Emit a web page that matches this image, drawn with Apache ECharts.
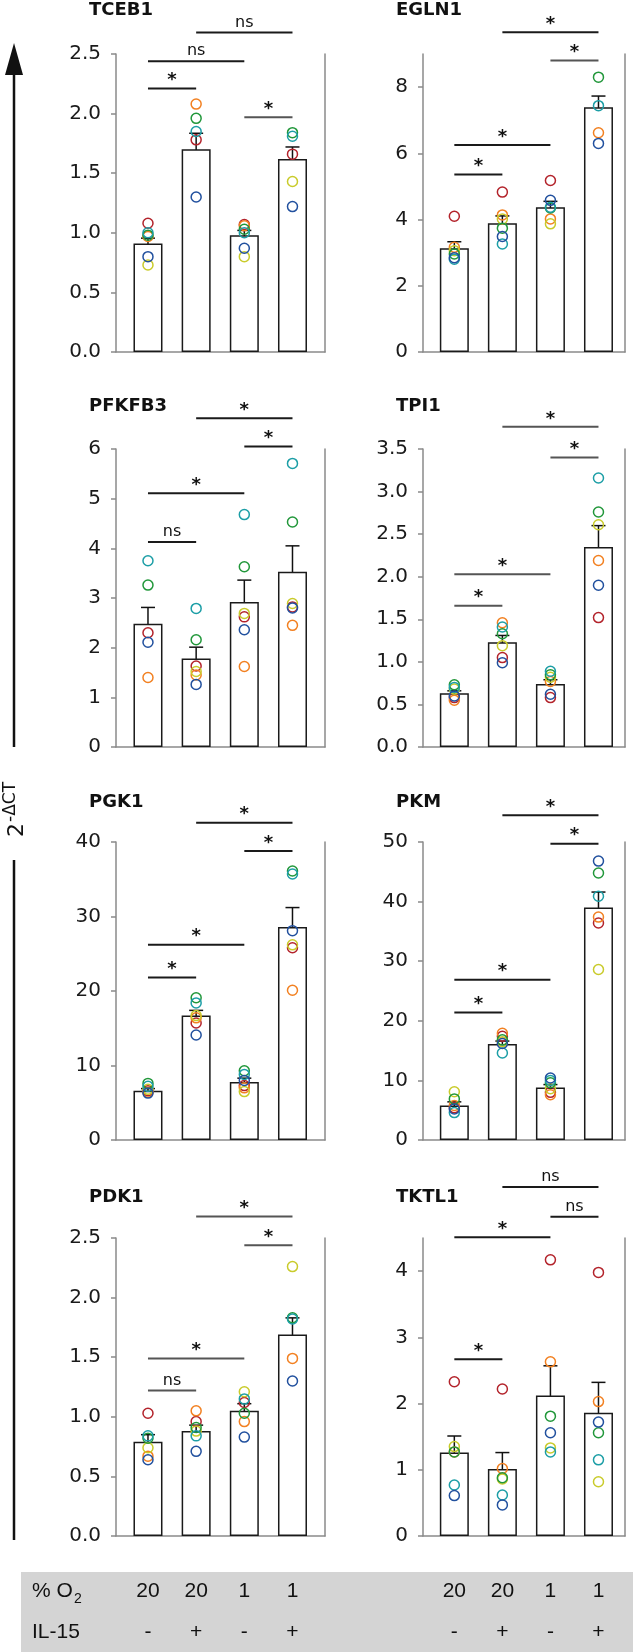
<!DOCTYPE html>
<html><head><meta charset="utf-8">
<script src="https://cdn.jsdelivr.net/npm/echarts@6/dist/echarts.min.js"></script>
<style>html,body{margin:0;padding:0;background:#fff}#c{width:633px;height:1652px}</style>
</head><body><div id="c"></div>
<script>
// ---------- data ----------
const groupX = [1, 2, 3, 4];
const o2Labels = ['20', '20', '1', '1'];
const il15Labels = ['-', '+', '-', '+'];
const donors = ['red', 'orange', 'yellow', 'green', 'teal', 'blue'];

const TCEB1_mean = [0.91, 1.70, 0.98, 1.62];
const TCEB1_sem = [0.045, 0.135, 0.04, 0.10];
const TCEB1_pts = [
  [1.08, 1.78, 1.07, 1.66],
  [0.97, 2.08, 1.06, null],
  [0.73, null, 0.80, 1.43],
  [0.98, 1.96, 1.03, 1.84],
  [1.00, 1.85, 1.00, 1.81],
  [0.80, 1.30, 0.87, 1.22]];
const TCEB1_ticks = [0, 0.5, 1, 1.5, 2, 2.5];
const TCEB1_max = 2.5;
const TCEB1_sig = [[1, 2, 2.21, '*'], [1, 3, 2.44, 'ns'], [2, 4, 2.68, 'ns'], [3, 4, 1.97, '*']];

const EGLN1_mean = [3.13, 3.89, 4.37, 7.39];
const EGLN1_sem = [0.20, 0.22, 0.18, 0.34];
const EGLN1_pts = [
  [4.10, 4.83, 5.18, null],
  [3.16, 4.14, 4.02, 6.62],
  [3.06, 4.02, 3.87, null],
  [2.96, 3.74, 4.35, 8.30],
  [2.80, 3.26, 4.37, 7.44],
  [2.85, 3.49, 4.58, 6.30]];
const EGLN1_ticks = [0, 2, 4, 6, 8];
const EGLN1_max = 9;
const EGLN1_sig = [[1, 2, 5.36, '*'], [1, 3, 6.25, '*'], [3, 4, 8.8, '*'], [2, 4, 9.66, '*']];

const PFKFB3_mean = [2.48, 1.78, 2.92, 3.53];
const PFKFB3_sem = [0.33, 0.23, 0.44, 0.52];
const PFKFB3_pts = [
  [2.30, 1.63, 2.62, 2.82],
  [1.40, 1.45, 1.62, 2.45],
  [null, 1.52, 2.69, 2.89],
  [3.26, 2.16, 3.63, 4.53],
  [3.75, 2.79, 4.68, 5.71],
  [2.11, 1.26, 2.36, 2.80]];
const PFKFB3_ticks = [0, 1, 2, 3, 4, 5, 6];
const PFKFB3_max = 6;
const PFKFB3_sig = [[1, 2, 4.13, 'ns'], [1, 3, 5.11, '*'], [3, 4, 6.05, '*'], [2, 4, 6.62, '*']];

const TPI1_mean = [0.63, 1.23, 0.74, 2.35];
const TPI1_sem = [0.03, 0.08, 0.05, 0.25];
const TPI1_pts = [
  [0.58, 1.05, 0.58, 1.52],
  [0.55, 1.46, 0.77, 2.19],
  [0.68, 1.19, 0.82, 2.61],
  [0.73, 1.33, 0.85, 2.76],
  [0.70, 1.41, 0.89, 3.16],
  [0.60, 0.99, 0.62, 1.90]];
const TPI1_ticks = [0, 0.5, 1, 1.5, 2, 2.5, 3, 3.5];
const TPI1_max = 3.5;
const TPI1_sig = [[1, 2, 1.66, '*'], [1, 3, 2.03, '*'], [3, 4, 3.40, '*'], [2, 4, 3.76, '*']];

const PGK1_mean = [6.6, 16.7, 7.8, 28.6];
const PGK1_sem = [0.3, 0.7, 0.5, 2.6];
const PGK1_pts = [
  [6.6, 15.7, 7.3, 25.8],
  [6.4, 16.4, 7.0, 20.1],
  [6.8, 16.7, 6.5, 26.2],
  [7.6, 19.1, 9.3, 36.1],
  [7.2, 18.4, 8.8, 35.7],
  [6.3, 14.1, 8.0, 28.1]];
const PGK1_ticks = [0, 10, 20, 30, 40];
const PGK1_max = 40;
const PGK1_sig = [[1, 2, 21.8, '*'], [1, 3, 26.2, '*'], [3, 4, 38.8, '*'], [2, 4, 42.6, '*']];

const PKM_mean = [5.8, 16.1, 8.8, 39.0];
const PKM_sem = [0.6, 0.5, 0.5, 2.6];
const PKM_pts = [
  [5.4, 17.4, 8.0, 36.4],
  [5.8, 17.9, 7.6, 37.4],
  [8.1, 16.5, 8.6, 28.6],
  [6.9, 16.8, 9.6, 44.8],
  [4.6, 14.6, 10.0, 40.9],
  [5.2, 16.2, 10.4, 46.8]];
const PKM_ticks = [0, 10, 20, 30, 40, 50];
const PKM_max = 50;
const PKM_sig = [[1, 2, 21.4, '*'], [1, 3, 26.9, '*'], [3, 4, 49.7, '*'], [2, 4, 54.5, '*']];

const PDK1_mean = [0.79, 0.88, 1.05, 1.69];
const PDK1_sem = [0.06, 0.05, 0.06, 0.14];
const PDK1_pts = [
  [1.03, 0.96, 1.12, null],
  [0.67, 1.05, 0.96, 1.49],
  [0.74, 0.88, 1.21, 2.26],
  [0.82, 0.91, 1.03, 1.83],
  [0.84, 0.84, 1.15, 1.82],
  [0.64, 0.71, 0.83, 1.30]];
const PDK1_ticks = [0, 0.5, 1, 1.5, 2, 2.5];
const PDK1_max = 2.5;
const PDK1_sig = [[1, 2, 1.22, 'ns'], [1, 3, 1.49, '*'], [3, 4, 2.44, '*'], [2, 4, 2.68, '*']];

const TKTL1_mean = [1.26, 1.01, 2.12, 1.86];
const TKTL1_sem = [0.25, 0.25, 0.45, 0.46];
const TKTL1_pts = [
  [2.33, 2.22, 4.17, 3.98],
  [1.27, 1.02, 2.63, 2.03],
  [1.35, 0.86, 1.33, 0.82],
  [1.27, 0.88, 1.81, 1.56],
  [0.77, 0.62, 1.27, 1.15],
  [0.61, 0.47, 1.56, 1.72]];
const TKTL1_ticks = [0, 1, 2, 3, 4];
const TKTL1_max = 4.5;
const TKTL1_sig = [[1, 2, 2.67, '*'], [1, 3, 4.51, '*'], [3, 4, 4.82, 'ns'], [2, 4, 5.27, 'ns']];

// ---------- styling / layout ----------
const FONT = 'DejaVu Sans';
const TFONT = 'Liberation Sans';
const donorColors = ['#b3232b', '#f28021', '#c9cb2b', '#21973a', '#1c9ea6', '#21509e'];
const panels = [
  {name: 'TCEB1', mean: TCEB1_mean, sem: TCEB1_sem, pts: TCEB1_pts, ticks: TCEB1_ticks, max: TCEB1_max, sig: TCEB1_sig, dec: 1, gray: [3]},
  {name: 'EGLN1', mean: EGLN1_mean, sem: EGLN1_sem, pts: EGLN1_pts, ticks: EGLN1_ticks, max: EGLN1_max, sig: EGLN1_sig, dec: 0, gray: [2]},
  {name: 'PFKFB3', mean: PFKFB3_mean, sem: PFKFB3_sem, pts: PFKFB3_pts, ticks: PFKFB3_ticks, max: PFKFB3_max, sig: PFKFB3_sig, dec: 0, gray: []},
  {name: 'TPI1', mean: TPI1_mean, sem: TPI1_sem, pts: TPI1_pts, ticks: TPI1_ticks, max: TPI1_max, sig: TPI1_sig, dec: 1, gray: [0, 1, 2, 3]},
  {name: 'PGK1', mean: PGK1_mean, sem: PGK1_sem, pts: PGK1_pts, ticks: PGK1_ticks, max: PGK1_max, sig: PGK1_sig, dec: 0, gray: []},
  {name: 'PKM', mean: PKM_mean, sem: PKM_sem, pts: PKM_pts, ticks: PKM_ticks, max: PKM_max, sig: PKM_sig, dec: 0, gray: []},
  {name: 'PDK1', mean: PDK1_mean, sem: PDK1_sem, pts: PDK1_pts, ticks: PDK1_ticks, max: PDK1_max, sig: PDK1_sig, dec: 1, gray: [0, 1, 2, 3]},
  {name: 'TKTL1', mean: TKTL1_mean, sem: TKTL1_sem, pts: TKTL1_pts, ticks: TKTL1_ticks, max: TKTL1_max, sig: TKTL1_sig, dec: 0, gray: []}
];
const colLeft = [116, 423], colWidth = [209, 202];
const colXMin = [0.336, 0.348], colXMax = [4.675, 4.552];
const rowTop = [54, 449, 842, 1238], rowH = 298;
const titleX = [89, 396], titleY = [10, 406, 802, 1197];
const AXIS_GRAY = '#8a8a8a';

function errRender(params, api) {
  const x = api.value(0), m = api.value(1), e = api.value(2);
  const t = api.coord([x, m + e]), b = api.coord([x, m - e]);
  const hw = 7;
  const st = {stroke: '#111', lineWidth: 1.5};
  return {type: 'group', children: [
    {type: 'line', shape: {x1: t[0], y1: t[1], x2: b[0], y2: b[1]}, style: st},
    {type: 'line', shape: {x1: t[0] - hw, y1: t[1], x2: t[0] + hw, y2: t[1]}, style: st},
    {type: 'line', shape: {x1: b[0] - hw, y1: b[1], x2: b[0] + hw, y2: b[1]}, style: st}
  ]};
}

const grid = [], xAxis = [], yAxis = [], series = [];
panels.forEach((p, i) => {
  const col = i % 2, row = Math.floor(i / 2);
  grid.push({left: colLeft[col], top: rowTop[row], width: colWidth[col], height: rowH});
  xAxis.push({gridIndex: i, type: 'value', min: colXMin[col], max: colXMax[col],
    axisLine: {show: true, onZero: false, lineStyle: {color: AXIS_GRAY, width: 1.5}},
    axisTick: {show: false}, axisLabel: {show: false}, splitLine: {show: false}});
  const yi = yAxis.length;
  yAxis.push({gridIndex: i, type: 'value', min: 0, max: p.max,
    axisLine: {show: true, lineStyle: {color: AXIS_GRAY, width: 1.5}},
    axisTick: {show: true, length: 5, customValues: p.ticks, lineStyle: {color: AXIS_GRAY, width: 1.5}},
    axisLabel: {customValues: p.ticks, formatter: v => Number(v).toFixed(p.dec), fontFamily: FONT, fontSize: 20, color: '#1a1a1a', margin: 15},
    splitLine: {show: false}});
  yAxis.push({gridIndex: i, type: 'value', position: 'right', min: 0, max: 1,
    axisLine: {show: true, lineStyle: {color: AXIS_GRAY, width: 1.5}},
    axisTick: {show: false}, axisLabel: {show: false}, splitLine: {show: false}});
  series.push({type: 'bar', xAxisIndex: i, yAxisIndex: yi, barWidth: 29, silent: true,
    data: groupX.map((x, k) => [x, p.mean[k]]),
    itemStyle: {color: '#fff', borderColor: '#1a1a1a', borderWidth: 1.5}});
  p.pts.forEach((arr, d) => {
    series.push({type: 'scatter', name: donors[d], xAxisIndex: i, yAxisIndex: yi, symbol: 'circle', symbolSize: 10, silent: true,
      data: groupX.map((x, k) => [x, arr[k]]).filter(v => v[1] != null),
      itemStyle: {color: 'rgba(255,255,255,0)', borderColor: donorColors[d], borderWidth: 1.5, opacity: 1}});
  });
  series.push({type: 'custom', xAxisIndex: i, yAxisIndex: yi, silent: true,
    data: groupX.map((x, k) => [x, p.mean[k], p.sem[k]]), encode: {x: 0, y: 1}, renderItem: errRender});
  series.push({type: 'custom', xAxisIndex: i, yAxisIndex: yi, silent: true, clip: false,
    data: p.sig.map(s => [s[0], s[1], s[2]]), encode: {x: [0, 1], y: 2},
    renderItem: (params, api) => {
      const s = p.sig[params.dataIndex];
      const a = api.coord([s[0], s[2]]), b = api.coord([s[1], s[2]]);
      const col = p.gray.includes(params.dataIndex) ? '#555' : '#1a1a1a';
      const star = s[3] === '*';
      return {type: 'group', children: [
        {type: 'line', shape: {x1: a[0], y1: a[1], x2: b[0], y2: b[1]}, style: {stroke: col, lineWidth: 2}},
        {type: 'text', x: (a[0] + b[0]) / 2, y: a[1] - (star ? 8 : 10),
          style: {text: s[3], fill: '#111', fontFamily: FONT, fontSize: star ? 18 : 16, fontWeight: star ? 'bold' : 'normal', align: 'center', verticalAlign: 'middle'}}
      ]};
    }});
});

const chart = echarts.init(document.getElementById('c'), null, {renderer: 'canvas'});
chart.setOption({backgroundColor: '#fff', animation: false, grid, xAxis, yAxis, series});

// ---------- annotations ----------
const graphics = [];
panels.forEach((p, i) => {
  const col = i % 2, row = Math.floor(i / 2);
  graphics.push({type: 'text', x: titleX[col], y: titleY[row],
    style: {text: p.name, fontFamily: FONT, fontSize: 18, fontWeight: 'bold', fill: '#111', align: 'left', verticalAlign: 'middle'}});
});
// big y arrow
const arrowX = 14;
graphics.push({type: 'line', shape: {x1: arrowX, y1: 70, x2: arrowX, y2: 747}, style: {stroke: '#111', lineWidth: 2.5}});
graphics.push({type: 'line', shape: {x1: arrowX, y1: 860, x2: arrowX, y2: 1540}, style: {stroke: '#111', lineWidth: 2.5}});
graphics.push({type: 'polygon', shape: {points: [[arrowX - 9, 75], [arrowX + 9, 75], [arrowX, 43]]}, style: {fill: '#111'}});
graphics.push({type: 'group', x: 15, y: 806, rotation: Math.PI / 2, children: [
  {type: 'text', x: -31, y: 2, style: {text: '2', fontFamily: FONT, fontSize: 22, fill: '#111', align: 'left', verticalAlign: 'middle'}},
  {type: 'text', x: -16, y: -4, style: {text: '-ΔCT', fontFamily: FONT, fontSize: 17, fill: '#111', align: 'left', verticalAlign: 'middle'}}
]});
// condition table
graphics.push({type: 'rect', shape: {x: 21, y: 1572, width: 612, height: 80}, style: {fill: '#d4d4d4'}, z: -1});
const rowO2 = 1591, rowIL = 1632;
const tStyle = {fontFamily: TFONT, fontSize: 21, fill: '#111', verticalAlign: 'middle'};
graphics.push({type: 'text', x: 32, y: rowO2, style: Object.assign({text: '% O', align: 'left'}, tStyle)});
graphics.push({type: 'text', x: 74, y: rowO2 + 8, style: Object.assign({}, tStyle, {text: '2', fontSize: 14, align: 'left'})});
graphics.push({type: 'text', x: 32, y: rowIL, style: Object.assign({text: 'IL-15', align: 'left'}, tStyle)});
[0, 1].forEach(ax => {
  groupX.forEach((gx, k) => {
    const px = chart.convertToPixel({xAxisIndex: ax}, gx);
    graphics.push({type: 'text', x: px, y: rowO2, style: Object.assign({text: o2Labels[k], align: 'center'}, tStyle)});
    graphics.push({type: 'text', x: px, y: rowIL, style: Object.assign({text: il15Labels[k], align: 'center'}, tStyle)});
  });
});
chart.setOption({graphic: graphics});
</script></body></html>
